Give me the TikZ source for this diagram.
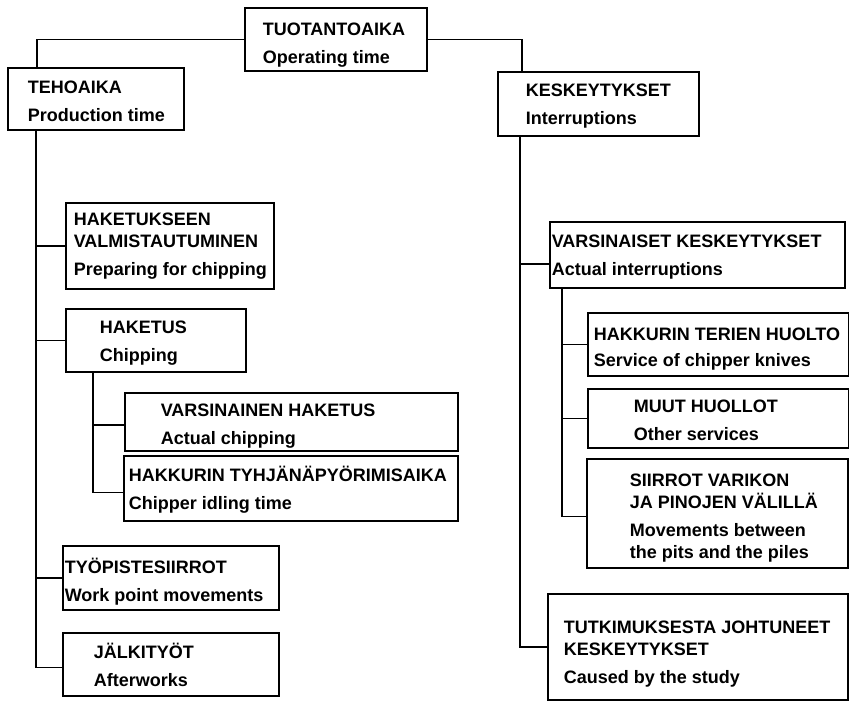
\documentclass[tikz,border=0pt]{standalone}
\usepackage{fontspec}
\setmainfont{Liberation Sans}
% #1 width, #2 left pad, #3 downward shift, #4 lines
\newcommand\bx[4]{\makebox[#1][l]{\hspace*{#2}\raisebox{0pt}[\dimexpr\height+#3+#3\relax][\depth]{\begin{tabular}{@{}l@{}}#4\end{tabular}}}}
\tikzset{
  box/.style={draw, line width=1.6pt, inner sep=0pt, anchor=north west, font=\fontsize{18}{22}\selectfont\bfseries},
  conn/.style={line width=1.6pt}
}
\begin{document}
\begin{tikzpicture}[x=1pt,y=-1pt]
\useasboundingbox (0,0) rectangle (849,702);
% top level
\node[box, minimum height=63pt] (top) at (244,7) {\bx{182pt}{18pt}{6pt}{TUOTANTOAIKA\\[6pt]Operating time}};
\node[box, minimum height=62pt] (teho) at (7,67) {\bx{176pt}{20pt}{4pt}{TEHOAIKA\\[6pt]Production time}};
\node[box, minimum height=64pt] (kesk) at (497,71) {\bx{201pt}{28pt}{2pt}{KESKEYTYKSET\\[6pt]Interruptions}};
% left branch
\node[box, minimum height=86pt] (valm) at (65,202) {\bx{208pt}{8pt}{0pt}{HAKETUKSEEN\\VALMISTAUTUMINEN\\[6pt]Preparing for chipping}};
\node[box, minimum height=63pt] (haketus) at (65,308) {\bx{180pt}{34pt}{3pt}{HAKETUS\\[6pt]Chipping}};
\node[box, minimum height=57pt] (vhak) at (124,392) {\bx{333pt}{36pt}{4pt}{VARSINAINEN HAKETUS\\[6pt]Actual chipping}};
\node[box, minimum height=65pt] (tyhj) at (123,455) {\bx{334pt}{5pt}{3pt}{HAKKURIN TYHJÄNÄPYÖRIMISAIKA\\[6pt]Chipper idling time}};
\node[box, minimum height=64pt] (tyop) at (62,545) {\bx{216pt}{2pt}{5pt}{TYÖPISTESIIRROT\\[6pt]Work point movements}};
\node[box, minimum height=63pt] (jalki) at (62,632) {\bx{216pt}{31pt}{4pt}{JÄLKITYÖT\\[6pt]Afterworks}};
% right branch
\node[box, minimum height=66pt] (vkesk) at (549,221) {\bx{295pt}{2pt}{2pt}{VARSINAISET KESKEYTYKSET\\[6pt]Actual interruptions}};
\node[box, minimum height=63pt] (terat) at (587,312) {\bx{261pt}{6pt}{5pt}{HAKKURIN TERIEN HUOLTO\\[4pt]Service of chipper knives}};
\node[box, minimum height=59pt] (muut) at (587,388) {\bx{261pt}{46pt}{4pt}{MUUT HUOLLOT\\[6pt]Other services}};
\node[box, minimum height=109pt] (siirrot) at (586,458) {\bx{261pt}{43pt}{5pt}{SIIRROT VARIKON\\JA PINOJEN VÄLILLÄ\\[6pt]Movements between\\the pits and the piles}};
\node[box, minimum height=106pt] (tutk) at (547,593) {\bx{300pt}{16pt}{7pt}{TUTKIMUKSESTA JOHTUNEET\\KESKEYTYKSET\\[6pt]Caused by the study}};
% connectors
\draw[conn] (top.west) -| ([xshift=30pt]teho.north west);
\draw[conn] (top.east) -| ([xshift=25pt]kesk.north west);
\draw[conn] ([xshift=29pt]teho.south west) |- (valm.west);
\draw[conn] ([xshift=29pt]teho.south west) |- (haketus.west);
\draw[conn] ([xshift=29pt]teho.south west) |- (tyop.west);
\draw[conn] ([xshift=29pt]teho.south west) |- ([yshift=-3pt]jalki.west);
\draw[conn] ([xshift=28pt]haketus.south west) |- ([yshift=-3pt]vhak.west);
\draw[conn] ([xshift=28pt]haketus.south west) |- ([yshift=-4pt]tyhj.west);
\draw[conn] ([xshift=23pt]kesk.south west) |- ([yshift=-9pt]vkesk.west);
\draw[conn] ([xshift=23pt]kesk.south west) |- (tutk.west);
\draw[conn] ([xshift=13pt]vkesk.south west) |- (terat.west);
\draw[conn] ([xshift=13pt]vkesk.south west) |- (muut.west);
\draw[conn] ([xshift=13pt]vkesk.south west) |- ([yshift=-3pt]siirrot.west);
\end{tikzpicture}
\end{document}
